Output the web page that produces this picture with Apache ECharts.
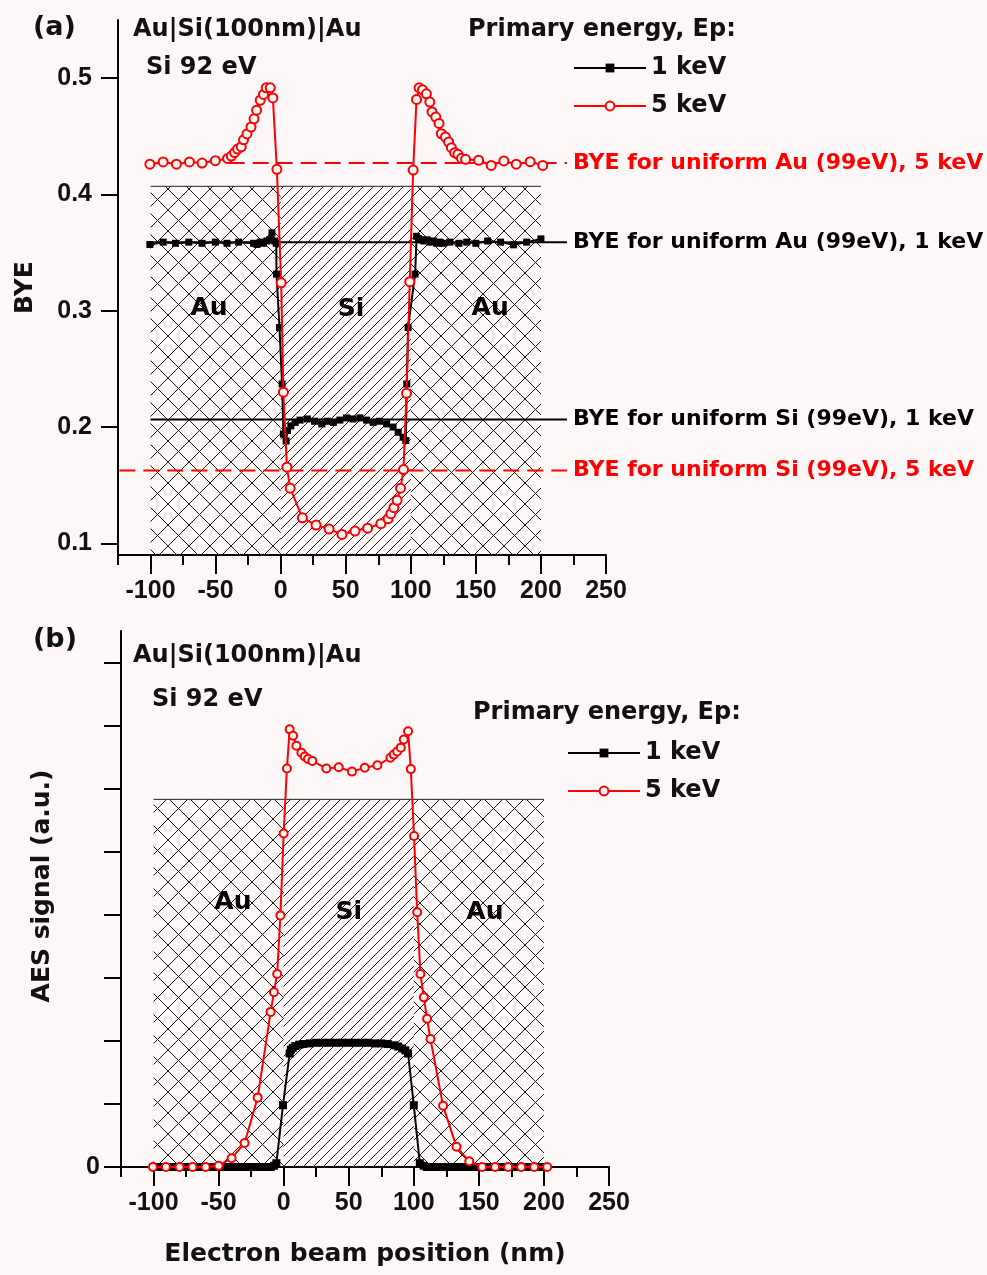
<!DOCTYPE html>
<html>
<head>
<meta charset="utf-8">
<script src="https://cdn.jsdelivr.net/npm/echarts@6/dist/echarts.min.js"></script>
<style>
html,body{margin:0;padding:0;background:#fdf7f7;}
#c{width:987px;height:1275px;}
</style>
</head>
<body>
<div id="c"></div>
<script>
// ---------------- DATA ----------------
const xTickLabels = [-100, -50, 0, 50, 100, 150, 200, 250];
const yTicksA = [0.1, 0.2, 0.3, 0.4, 0.5];
const yTicksB = [0, 1, 2, 3, 4, 5, 6, 7, 8];
const yLabelsB = [0];

// layer structure Au | Si | Au (nm)
const layers = [
  { name: 'Au', from: -100, to: 0, hatch: 'cross' },
  { name: 'Si', from: 0, to: 100, hatch: 'slash' },
  { name: 'Au', from: 100, to: 200, hatch: 'cross' }
];
const layerTopA = 0.407;
const layerTopB = 5.83;
const layerLabelsA = [[-55, 0.302, 'Au'], [54, 0.301, 'Si'], [161, 0.302, 'Au']];
const layerLabelsB = [[-39, 4.19, 'Au'], [50, 4.03, 'Si'], [154.6, 4.03, 'Au']];

// (a) BYE, 5 keV
const bye5keV = [
  [-100.5,0.426],[-90.3,0.428],[-80.1,0.426],[-70.1,0.428],[-60.4,0.427],[-50.2,0.429],
  [-40.8,0.431],[-37.9,0.433],[-35.4,0.436],[-33.1,0.439],[-30.3,0.441],[-28.5,0.447],
  [-25.9,0.452],[-22.8,0.458],[-20.5,0.465],[-18.5,0.4725],[-15.7,0.481],[-13.2,0.486],
  [-11.1,0.4917],[-8,0.4917],[-6,0.483],[-2.9,0.4216],[0.4,0.324],[2.1,0.23],
  [4.8,0.1655],[7.3,0.1475],[16.7,0.122],[27.2,0.1157],[37.2,0.1123],[47.1,0.1077],
  [57.1,0.1106],[66.8,0.1131],[77,0.1169],[82.6,0.1212],[84.7,0.1255],[87,0.1307],
  [89.5,0.137],[92.1,0.1475],[94.4,0.1635],[96.7,0.229],[99.2,0.325],[101.8,0.421],
  [104.4,0.4817],[106.4,0.4917],[109,0.490],[112,0.4865],[114.6,0.4794],[116.3,0.471],
  [119.2,0.4665],[121.7,0.4611],[123.5,0.4522],[126.6,0.4494],[129.1,0.4451],[131.2,0.4402],
  [133.7,0.4359],[136.2,0.4345],[138.9,0.4311],[142.1,0.4302],[152.1,0.4294],[161.8,0.425],
  [171.5,0.4288],[181,0.426],[191.7,0.4282],[201.4,0.425]
];
// (a) BYE, 1 keV
const bye1keV = [
  [-100.5,0.357],[-90.3,0.359],[-80.8,0.358],[-70.6,0.359],[-60.4,0.358],[-50.2,0.359],
  [-41.2,0.358],[-32.3,0.359],[-20.8,0.358],[-18.2,0.357],[-15.7,0.359],[-13.2,0.358],
  [-10.6,0.360],[-8.5,0.361],[-6.7,0.367],[-4.5,0.360],[-3.4,0.358],[-3.2,0.3315],
  [-0.9,0.2856],[1.1,0.237],[2.1,0.194],[4.2,0.188],[5.2,0.197],[7.8,0.201],[11.1,0.204],
  [14.9,0.206],[20.5,0.207],[26,0.205],[31.6,0.2027],[36,0.205],[40.5,0.204],[45.5,0.206],
  [50.7,0.2079],[55.5,0.207],[60.9,0.2079],[66,0.206],[71.1,0.204],[76,0.205],[81.4,0.2027],
  [86.4,0.200],[90.3,0.1955],[94.1,0.1913],[96.2,0.1884],[96.9,0.237],[97.9,0.2856],
  [103.3,0.3315],[104.5,0.364],[106,0.362],[108,0.361],[110,0.360],[112.5,0.361],[115,0.359],
  [117.5,0.360],[120,0.358],[122.5,0.359],[125,0.358],[130,0.359],[137,0.358],[143,0.359],
  [150,0.358],[159,0.360],[169,0.359],[179,0.3567],[189,0.359],[200,0.3618]
];
// (a) reference levels for uniform targets
const refAu5 = [[-40, 0.427], [220, 0.427]];
const refAu1 = [[-100, 0.359], [220, 0.359]];
const refSi1 = [[-100, 0.2064], [220, 0.2064]];
const refSi5 = [[-124, 0.1627], [220, 0.1627]];

// (b) AES signal, 5 keV
const aes5keV = [
  [-100.5,0],[-90.5,0],[-80,0],[-70,0],[-60,0],[-50,0.02],[-40,0.14],[-30,0.38],[-20,1.1],
  [-10,2.46],[-7.5,2.77],[-5,3.06],[-2.5,3.99],[0,5.29],[2.5,6.32],[4.6,6.94],[7.2,6.84],
  [9.8,6.68],[13.6,6.57],[16.2,6.51],[18.7,6.47],[22,6.44],[32.8,6.32],[42.3,6.34],
  [52.5,6.27],[62.3,6.33],[72,6.37],[82,6.49],[84.6,6.54],[87.2,6.59],[90,6.65],[92.3,6.78],
  [95.6,6.91],[97.7,6.31],[100.2,5.25],[102.6,4.04],[105.1,3.06],[107.7,2.69],[110.2,2.35],
  [112.8,2.03],[122.5,0.97],[132.8,0.32],[142.6,0.09],[152.5,0],[162.5,0],[172.5,0],
  [182.5,0],[192.5,0],[202.5,0]
];
// (b) AES signal, 1 keV
const aes1keV = [
  [-100,0],[-95,0],[-90,0],[-85,0],[-80,0],[-75,0],[-70,0],[-65,0],[-60,0],[-55,0],[-50,0],
  [-45,0],[-40,0],[-35,0],[-30,0],[-25,0],[-20,0],[-15,0],[-10,0],[-7.5,0.02],[-5.6,0.06],
  [-0.5,0.98],[4.6,1.80],[5.5,1.86],[7,1.89],[9,1.92],[12,1.94],[15,1.95],[20,1.96],[25,1.97],
  [30,1.97],[35,1.97],[40,1.97],[45,1.97],[50,1.97],[55,1.97],[60,1.97],[65,1.97],[70,1.96],
  [75,1.96],[80,1.95],[85,1.93],[88,1.91],[91,1.88],[93.5,1.85],[95.6,1.80],[100,0.98],
  [104.6,0.06],[107.5,0.02],[110,0],[115,0],[120,0],[125,0],[130,0],[135,0],[140,0],[145,0],
  [150,0],[155,0],[160,0],[165,0],[170,0],[175,0],[180,0],[185,0],[190,0],[195,0],[200,0]
];

// ---------------- STYLE ----------------
const FONT = '"DejaVu Sans", "Liberation Sans", Arial, sans-serif';
const TICKFONT = '"Liberation Sans", Arial, sans-serif';
const BG = '#fdf7f7';
const RED = '#ff0000';
const INK = '#111111';

function makePattern(kind) {
  const s = kind === 'cross' ? 21 : 10;
  const c = document.createElement('canvas');
  c.width = s; c.height = s;
  const g = c.getContext('2d');
  g.strokeStyle = '#1a1a1a';
  g.lineWidth = 1;
  g.beginPath();
  for (const k of [-s, 0, s]) {
    if (kind === 'cross') {
      g.moveTo(k - 1, -1); g.lineTo(k + s + 1, s + 1);
      g.moveTo(k + s + 1, -1); g.lineTo(k - 1, s + 1);
    } else {
      g.moveTo(k - 1, s + 1); g.lineTo(k + s + 1, -1);
    }
  }
  g.stroke();
  return { image: c, repeat: 'repeat' };
}
const patterns = { cross: makePattern('cross'), slash: makePattern('slash') };

const grids = [
  { left: 118, top: 20, width: 488, height: 535 },
  { left: 121, top: 631, width: 488, height: 536 }
];
const yMinA = 0.09, yMaxA = 0.55, yMinB = 0, yMaxB = 8.5;

const labelFont = { fontFamily: TICKFONT, fontWeight: 'bold', fontSize: 25, color: INK };

function minorX(gi) {
  return {
    gridIndex: gi, type: 'value', min: -125, max: 250, interval: 25, position: 'bottom',
    axisLine: { show: true, onZero: false, lineStyle: { color: '#000', width: 2 } },
    axisTick: { show: true, inside: false, length: 10, lineStyle: { color: '#000', width: 2 } },
    axisLabel: Object.assign({ margin: 24, formatter: v => (v % 50 === 0 ? String(v) : '') }, labelFont),
    splitLine: { show: false },
    name: gi === 1 ? 'Electron beam position (nm)' : '',
    nameLocation: 'middle', nameGap: 75,
    nameTextStyle: { fontFamily: FONT, fontWeight: 'bold', fontSize: 25, color: INK }
  };
}
function majorX(gi) {
  return {
    gridIndex: gi, type: 'value', min: -125, max: 250, position: 'bottom',
    axisLine: { show: false, onZero: false },
    axisTick: { show: true, inside: false, length: 19, customValues: xTickLabels, lineStyle: { color: '#000', width: 2 } },
    axisLabel: { show: false },
    splitLine: { show: false }
  };
}

function areaData(top, bottom) {
  return layers.map(l => [
    { xAxis: l.from, yAxis: bottom, itemStyle: { color: patterns[l.hatch], opacity: 1, borderWidth: 0 } },
    { xAxis: l.to, yAxis: top }
  ]);
}

function layerSeries(xi, yi, top, bottom) {
  return {
    type: 'line', xAxisIndex: xi, yAxisIndex: yi, name: 'layers', silent: true, z: 1,
    symbol: 'none', animation: false,
    data: [[layers[0].from, top], [layers[layers.length - 1].to, top]],
    lineStyle: { color: '#222', width: 1 },
    markArea: { silent: true, data: areaData(top, bottom) }
  };
}
function layerLabelSeries(xi, yi, arr) {
  return {
    type: 'scatter', xAxisIndex: xi, yAxisIndex: yi, silent: true, z: 6, symbolSize: 1,
    itemStyle: { color: 'rgba(0,0,0,0)', opacity: 1 },
    emphasis: { disabled: true },
    data: arr.map(d => ({ value: [d[0], d[1]], name: d[2] })),
    label: { show: true, position: 'inside', formatter: '{b}', fontFamily: FONT, fontWeight: 'bold',
      fontSize: 25, color: '#000', opacity: 1, textBorderWidth: 0 }
  };
}
function refSeries(name, data, color, dashed) {
  return {
    type: 'line', name: name, xAxisIndex: 0, yAxisIndex: 0, data: data, symbol: 'none', silent: true, z: 2,
    lineStyle: { color: color, width: 2, type: dashed ? [16, 8] : 'solid' },
    endLabel: { show: true, formatter: name, distance: 6, color: color, fontFamily: FONT, fontWeight: 'bold', fontSize: 22 }
  };
}
function series1keV(xi, yi, data, size) {
  return {
    type: 'line', name: '1 keV', xAxisIndex: xi, yAxisIndex: yi, data: data, z: 4,
    symbol: 'rect', symbolSize: size, showAllSymbol: true,
    itemStyle: { color: '#000' }, lineStyle: { color: '#000', width: 2 }
  };
}
function series5keV(xi, yi, data, size) {
  return {
    type: 'line', name: '5 keV', xAxisIndex: xi, yAxisIndex: yi, data: data, z: 5,
    symbol: 'circle', symbolSize: size, showAllSymbol: true,
    itemStyle: { color: BG, borderColor: RED, borderWidth: 2 }, lineStyle: { color: RED, width: 2 }
  };
}

function txt(x, y, text, size) {
  return { type: 'text', x: x, y: y, silent: true,
    style: { text: text, font: 'bold ' + size + 'px ' + FONT, fill: INK, verticalAlign: 'middle' } };
}

const legendBase = {
  orient: 'vertical', data: ['1 keV', '5 keV'], itemWidth: 72, itemHeight: 11, itemGap: 14,
  selectedMode: false,
  textStyle: { fontFamily: FONT, fontWeight: 'bold', fontSize: 24, color: INK }
};

function yAxisCommon(gi, min, max, ticks, labels, margin, fmt, name, gap, pad) {
  return {
    gridIndex: gi, type: 'value', min: min, max: max,
    axisLine: { show: true, onZero: false, lineStyle: { color: '#000', width: 2 } },
    axisTick: { show: true, inside: false, length: 17, customValues: ticks, lineStyle: { color: '#000', width: 2 } },
    axisLabel: Object.assign({ margin: margin, customValues: labels, formatter: fmt }, labelFont),
    splitLine: { show: false },
    name: name, nameLocation: 'middle', nameGap: gap,
    nameTextStyle: { fontFamily: FONT, fontWeight: 'bold', fontSize: 25, color: INK, padding: pad }
  };
}

const option = {
  backgroundColor: BG,
  animation: false,
  grid: grids,
  xAxis: [minorX(0), majorX(0), minorX(1), majorX(1)],
  yAxis: [
    yAxisCommon(0, yMinA, yMaxA, yTicksA, yTicksA, 26, v => v.toFixed(1), 'BYE', 80, [0, 0, 0, 0]),
    yAxisCommon(1, yMinB, yMaxB, yTicksB, yLabelsB, 21, v => String(v), 'AES signal (a.u.)', 66, [0, 0, 0, 26])
  ],
  legend: [
    Object.assign({ left: 568, top: 51 }, legendBase),
    Object.assign({ left: 562, top: 736 }, legendBase)
  ],
  graphic: [
    txt(33, 28, '(a)', 27),
    txt(133, 30, 'Au|Si(100nm)|Au', 24),
    txt(146, 68, 'Si 92 eV', 24),
    txt(468, 30, 'Primary energy, Ep:', 24),
    txt(33, 640, '(b)', 27),
    txt(133, 656, 'Au|Si(100nm)|Au', 24),
    txt(152, 700, 'Si 92 eV', 24),
    txt(473, 713, 'Primary energy, Ep:', 24)
  ],
  series: [
    layerSeries(0, 0, layerTopA, yMinA),
    layerLabelSeries(0, 0, layerLabelsA),
    refSeries('BYE for uniform Au (99eV), 5 keV', refAu5, RED, true),
    refSeries('BYE for uniform Au (99eV), 1 keV', refAu1, '#000', false),
    refSeries('BYE for uniform Si (99eV), 1 keV', refSi1, '#000', false),
    refSeries('BYE for uniform Si (99eV), 5 keV', refSi5, RED, true),
    series1keV(0, 0, bye1keV, 7),
    series5keV(0, 0, bye5keV, 9),

    layerSeries(2, 1, layerTopB, yMinB),
    layerLabelSeries(2, 1, layerLabelsB),
    series1keV(2, 1, aes1keV, 8),
    series5keV(2, 1, aes5keV, 8)
  ]
};

const chart = echarts.init(document.getElementById('c'), null, { renderer: 'canvas' });
chart.setOption(option);
</script>
</body>
</html>
